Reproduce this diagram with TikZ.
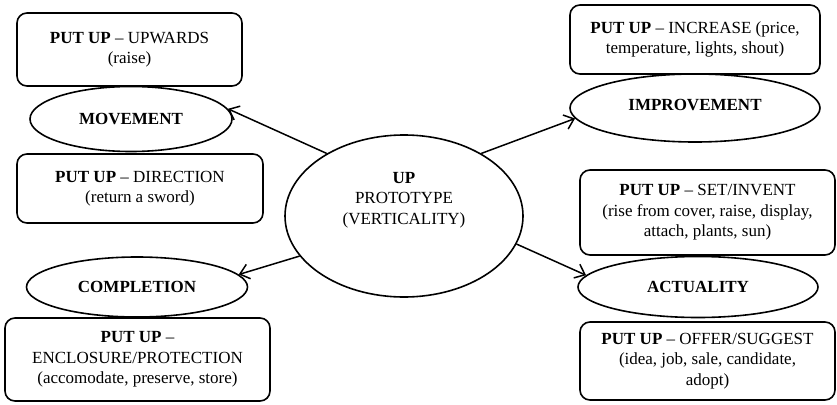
\documentclass[tikz,border=0pt]{standalone}
\usepackage{fontspec}
\setmainfont{Liberation Serif}
\usetikzlibrary{shapes.geometric,arrows.meta}
\begin{document}
\begin{tikzpicture}[x=1pt,y=-1pt,
  every node/.style={font=\fontsize{17}{20.5}\selectfont, align=center, inner sep=0pt},
  boxnode/.style={draw, line width=1.6pt, rounded corners=10pt, rectangle},
  ellnode/.style={draw, line width=1.6pt, ellipse},
  conn/.style={line width=1.5pt, -{Straight Barb[length=9pt,width=15pt,line width=1.5pt]}}
]
\useasboundingbox (0,0) rectangle (837,404);
% left
\node[boxnode, minimum width=225pt, minimum height=73pt] (b1) at (129.5,49.5) {\textbf{PUT UP} -- UPWARDS\\(raise)};
\node[ellnode, minimum width=202pt, minimum height=65pt] (mov) at (131,119) {\textbf{MOVEMENT}};
\node[boxnode, minimum width=246pt, minimum height=69pt] (b2) at (140,188.5) {\textbf{PUT UP} -- DIRECTION\\(return a sword)};
\node[ellnode, minimum width=221pt, minimum height=60pt] (comp) at (137,287) {\textbf{COMPLETION}};
\node[boxnode, minimum width=265pt, minimum height=83pt] (b3) at (137.5,359.5) {\textbf{PUT UP} --\\ENCLOSURE/PROTECTION\\(accomodate, preserve, store)};
% centre
\node[ellnode, minimum width=238pt, minimum height=162pt] (c) at (404,216) {};
\node (ct) at (404,200) {\textbf{UP}\\PROTOTYPE\\(VERTICALITY)};
% right
\node[boxnode, minimum width=250pt, minimum height=69pt] (b4) at (695,39.5) {\textbf{PUT UP} -- INCREASE (price,\\temperature, lights, shout)};
\node[ellnode, minimum width=250pt, minimum height=68pt] (impr) at (695,108) {};
\node (imprt) at (695,105) {\textbf{IMPROVEMENT}};
\node[boxnode, minimum width=255pt, minimum height=85pt] (b5) at (707.5,212.5) {\textbf{PUT UP} -- SET/INVENT\\(rise from cover, raise, display,\\attach, plants, sun)};
\node[ellnode, minimum width=240pt, minimum height=61pt] (act) at (698,287) {\textbf{ACTUALITY}};
\node[boxnode, minimum width=255pt, minimum height=78pt] (b6) at (707.5,361) {\textbf{PUT UP} -- OFFER/SUGGEST\\(idea, job, sale, candidate,\\adopt)};
% connectors
\draw[conn] (c.141) -- (mov.6);
\draw[conn] (c.201) -- (comp.7);
\draw[conn] (c.39) -- (impr.185);
\draw[conn] (c.346) -- (act.174);
\end{tikzpicture}
\end{document}
